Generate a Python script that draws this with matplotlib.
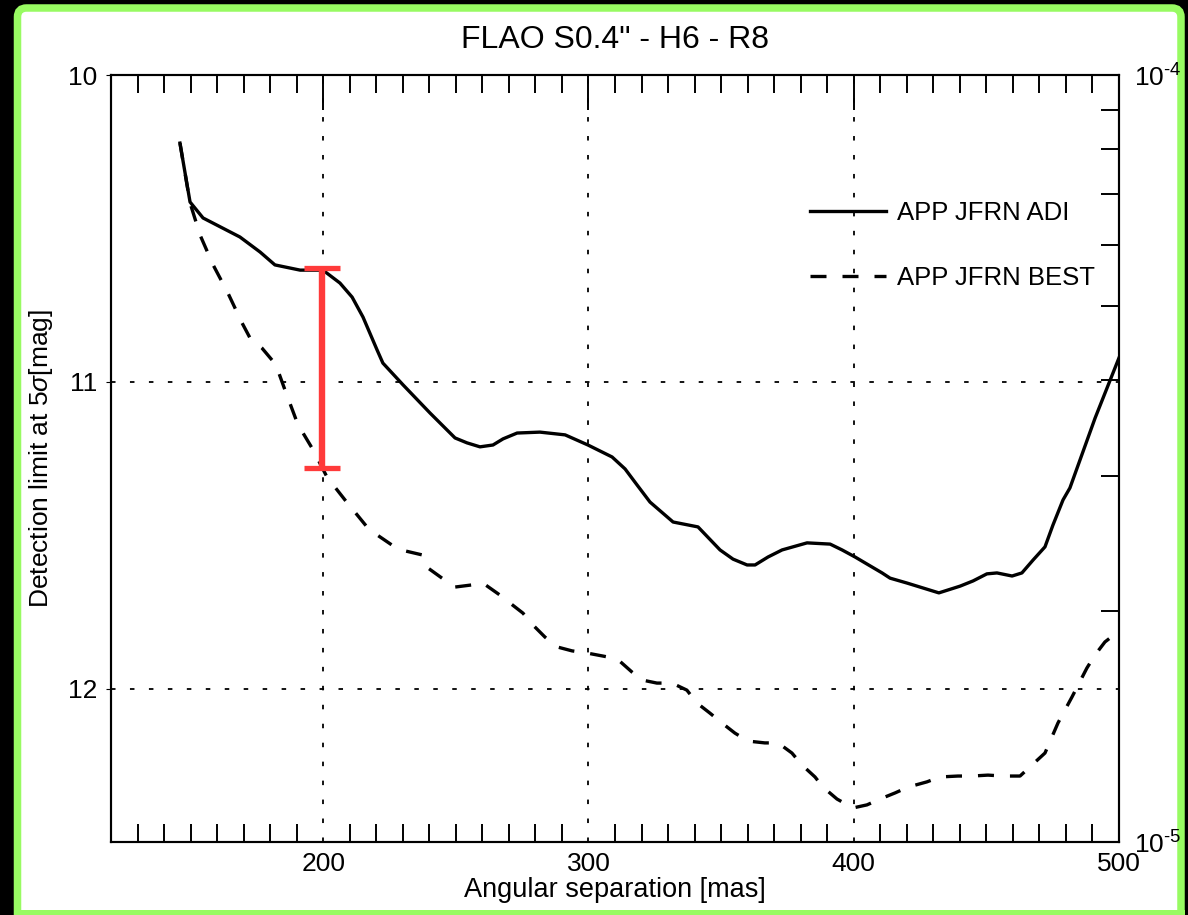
import matplotlib
matplotlib.use('Agg')
import matplotlib.pyplot as plt
from matplotlib.patches import FancyBboxPatch, Rectangle
from matplotlib.transforms import IdentityTransform
from matplotlib.ticker import MultipleLocator, LogLocator, NullFormatter, FuncFormatter
import numpy as np

plt.rcParams['font.family'] = ['Liberation Sans', 'DejaVu Sans']
plt.rcParams['mathtext.fontset'] = 'custom'
plt.rcParams['mathtext.rm'] = 'Liberation Sans'
plt.rcParams['mathtext.it'] = 'Liberation Sans:italic'
plt.rcParams['axes.linewidth'] = 1.5

# APP JFRN ADI: separation [mas] vs 5-sigma detection limit [mag]
sep_adi = [146.0, 149.8, 154.7, 168.6, 176.2, 181.8, 191.3, 199.9, 206.3, 210.9,
           215.0, 220.3, 222.5, 230.1, 240.3, 249.7, 254.2, 259.1, 264.0, 267.8,
           273.1, 281.7, 291.2, 299.8, 308.9, 313.8, 318.3, 323.2, 331.9, 341.3,
           349.6, 354.5, 359.8, 362.8, 367.7, 373.0, 382.4, 391.1, 395.6, 400.5,
           405.0, 410.7, 413.7, 420.1, 426.1, 432.1, 440.1, 445.0, 450.2, 454.0,
           459.7, 463.4, 467.6, 472.1, 475.1, 478.9, 481.5, 491.0, 500.0]
mag_adi = [10.222, 10.414, 10.466, 10.528, 10.577, 10.619, 10.636, 10.636, 10.678, 10.724,
           10.789, 10.896, 10.939, 11.010, 11.102, 11.183, 11.199, 11.212, 11.206, 11.186,
           11.167, 11.164, 11.173, 11.206, 11.245, 11.284, 11.336, 11.392, 11.457, 11.473,
           11.548, 11.578, 11.597, 11.597, 11.571, 11.548, 11.525, 11.529, 11.548, 11.571,
           11.594, 11.623, 11.640, 11.656, 11.672, 11.688, 11.666, 11.649, 11.626, 11.623,
           11.633, 11.623, 11.581, 11.538, 11.467, 11.385, 11.346, 11.118, 10.922]

# APP JFRN BEST
sep_best = [146.0, 149.8, 153.6, 158.5, 164.1, 169.4, 172.4, 176.9, 180.7, 182.6,
            185.6, 190.1, 192.4, 196.2, 201.4, 208.2, 216.5, 220.3, 225.9, 230.8,
            237.2, 239.5, 244.8, 249.7, 256.1, 260.2, 266.6, 270.4, 275.3, 279.1,
            283.6, 288.1, 293.8, 299.4, 305.5, 310.8, 316.4, 320.2, 325.8, 331.5,
            337.1, 340.9, 345.8, 350.3, 355.2, 360.1, 366.5, 371.5, 376.7, 380.5,
            385.4, 388.4, 393.7, 399.7, 405.0, 409.9, 415.6, 420.5, 427.6, 432.5,
            439.3, 444.6, 450.6, 456.3, 462.7, 467.2, 472.1, 477.0, 482.3, 487.9,
            491.0, 494.7, 499.6]
mag_best = [10.222, 10.417, 10.522, 10.619, 10.711, 10.808, 10.857, 10.890, 10.929, 10.955,
            11.027, 11.131, 11.167, 11.222, 11.310, 11.385, 11.473, 11.499, 11.532, 11.551,
            11.564, 11.607, 11.640, 11.669, 11.662, 11.656, 11.695, 11.721, 11.754, 11.793,
            11.832, 11.864, 11.877, 11.884, 11.894, 11.903, 11.946, 11.972, 11.982, 11.982,
            12.005, 12.047, 12.080, 12.112, 12.145, 12.171, 12.177, 12.177, 12.210, 12.249,
            12.288, 12.321, 12.360, 12.389, 12.379, 12.360, 12.340, 12.321, 12.304, 12.288,
            12.285, 12.285, 12.282, 12.285, 12.285, 12.249, 12.210, 12.112, 12.027, 11.933,
            11.890, 11.848, 11.815]

# gain marker at 200 mas
bar_sep = 199.5
bar_top = 10.63
bar_bottom = 11.28

green = '#98fb62'

fig = plt.figure(figsize=(11.88, 9.15), dpi=100, facecolor='black')

# white panel with green frame (bottom edge runs off the page)
frame = FancyBboxPatch((17.5, -30), 1163.5, 937,
                       boxstyle='round,pad=0,rounding_size=9',
                       facecolor='white', edgecolor=green, linewidth=5.4,
                       transform=IdentityTransform(), zorder=-10)
fig.patches.append(frame)
fig.patches.append(Rectangle((14, 0), 1171, 5, facecolor=green, edgecolor='none',
                             transform=IdentityTransform(), zorder=-9))

ax = fig.add_axes([0.09343, 0.07978, 0.84848, 0.83825])
ax.set_facecolor('white')

ax.plot(sep_adi, mag_adi, color='black', lw=2.4, label='APP JFRN ADI', zorder=3)
ax.plot(sep_best, mag_best, color='black', lw=2.4, dashes=(4.8, 4.8),
        label='APP JFRN BEST', zorder=3)

mid = (bar_top + bar_bottom) / 2
ax.errorbar([bar_sep], [mid], yerr=[[mid - bar_top], [bar_bottom - mid]],
            color='#ff3a3a', elinewidth=4.6, capsize=13.3, capthick=3.8, zorder=4)

ax.set_xlim(120, 500)
ax.set_ylim(12.5, 10)
ax.xaxis.set_major_locator(MultipleLocator(100))
ax.xaxis.set_minor_locator(MultipleLocator(10))
ax.yaxis.set_major_locator(MultipleLocator(1))
ax.grid(True, which='major', color='black', linestyle=(0, (2.5, 8)), linewidth=1.3)

ax.tick_params(axis='x', which='minor', direction='in', top=True, bottom=True,
               length=13, width=1.4)
ax.tick_params(axis='x', which='major', direction='in', top=True, bottom=False,
               length=25, width=1.4, labelbottom=True, pad=7, labelsize=19)
ax.tick_params(axis='y', which='both', left=False, right=False, pad=6.5, labelsize=19)

ax.set_xlabel('Angular separation [mas]', fontsize=19.5)
ax.xaxis.set_label_coords(0.5, -0.046)
ax.set_ylabel(r'Detection limit at 5$\mathit{\sigma}$[mag]', fontsize=19)
ax.yaxis.set_label_coords(-0.056, 0.5)

ax2 = ax.twinx()
ax2.set_yscale('log')
ax2.set_ylim(1e-5, 1e-4)
ax2.yaxis.set_major_locator(LogLocator(base=10))
ax2.yaxis.set_major_formatter(
    FuncFormatter(lambda v, pos: r'$10^{\text{-}%d}$' % round(-np.log10(v))))
ax2.yaxis.set_minor_locator(LogLocator(base=10, subs=range(2, 10)))
ax2.yaxis.set_minor_formatter(NullFormatter())
ax2.tick_params(axis='y', which='both', direction='in', right=True, left=False,
                length=13, width=1.4, pad=11, labelsize=19)

leg = ax.legend(loc='upper left', bbox_to_anchor=(0.6935, 0.8355), frameon=False,
                fontsize=18.5, handlelength=2.95, handletextpad=0.45,
                labelspacing=1.58, borderpad=0, borderaxespad=0)

fig.text(0.5177, 1 - 40 / 915, 'FLAO S0.4" - H6 - R8', ha='center', va='center',
         fontsize=23)

fig.savefig('out.png', dpi=100, facecolor=fig.get_facecolor())
